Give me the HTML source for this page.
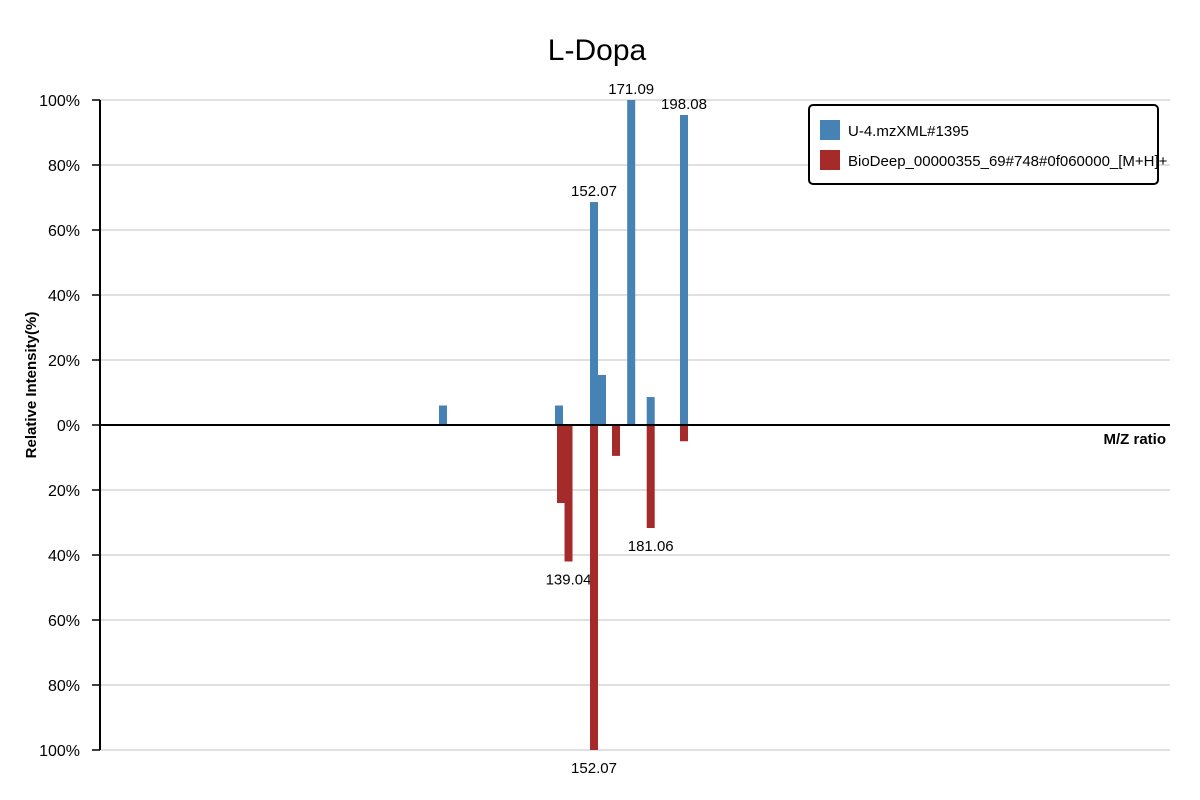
<!DOCTYPE html>
<html><head><meta charset="utf-8"><style>
body{margin:0;background:#fff}
svg{display:block;font-family:"Liberation Sans",sans-serif}
</style></head><body>
<svg id="chart" width="1200" height="800" xmlns="http://www.w3.org/2000/svg">
<text x="597" y="60" font-size="30" text-anchor="middle" fill="#000">L-Dopa</text>
<g id="grid"></g>
<g id="bars"></g>
<g id="axes"></g>
<g>
<rect x="809" y="105" width="349" height="79" rx="4" fill="#fff" stroke="#000" stroke-width="2"/>
<rect x="820" y="120" width="20" height="20" fill="#4682b4"/>
<text x="848" y="136" font-size="15">U-4.mzXML#1395</text>
<rect x="820" y="150" width="20" height="20" fill="#a52a2a"/>
<text x="848" y="166" font-size="15">BioDeep_00000355_69#748#0f060000_[M+H]+</text>
</g>
</svg>
<script>
const queryMz=[74.87,134.18,152.07,156.16,171.09,181.06,198.08];
const queryInt=[6,6,68.6,15.4,100,8.6,95.4];
const queryLabels=["","","152.07","","171.09","","198.08"];
const refMz=[135.2,139.04,152.07,163.32,181.06,198.08];
const refInt=[24,42,100,9.5,31.7,5];
const refLabels=["","139.04","152.07","","181.06",""];
const yTicks=[100,80,60,40,20,0,-20,-40,-60,-80,-100];

const NS="http://www.w3.org/2000/svg";
const y0=425, yScale=3.25;
const yPos=v=>y0-v*yScale;
const xPos=mz=>594+(mz-152.07)*1.956;
function mk(tag,attrs,parent,text){const e=document.createElementNS(NS,tag);for(const k in attrs)e.setAttribute(k,attrs[k]);if(text!==undefined)e.textContent=text;parent.appendChild(e);return e;}
const grid=document.getElementById('grid'),bars=document.getElementById('bars'),axes=document.getElementById('axes');
yTicks.forEach(t=>{
 const y=yPos(t);
 if(t!==0){const l=mk('line',{x1:100,x2:1170,y1:y,y2:y,stroke:'#e0e0e0','stroke-width':2},grid);
 
 }
 const tk=mk('line',{x1:92,x2:100,y1:y,y2:y,stroke:'#000','stroke-width':1.5},axes);
 
 
 const tx=mk('text',{x:80,y:y+6,'font-size':16,'text-anchor':'end'},axes,Math.abs(t)+'%');
 
 
});
queryMz.forEach((mz,i)=>{
 const x=xPos(mz),y=yPos(queryInt[i]);
 const r=mk('rect',{x:x-4,y:y,width:8,height:y0-y,fill:'#4682b4'},bars);
 
 
 if(queryLabels[i]){const t=mk('text',{x:x,y:y-6,'font-size':15,'text-anchor':'middle'},bars,queryLabels[i]);
 
 }
});
refMz.forEach((mz,i)=>{
 const x=xPos(mz),y=yPos(-refInt[i]);
 const r=mk('rect',{x:x-4,y:y0,width:8,height:y-y0,fill:'#a52a2a'},bars);
 
 
 if(refLabels[i]){const t=mk('text',{x:x,y:y+23,'font-size':15,'text-anchor':'middle'},bars,refLabels[i]);
 
 }
});
const ya=mk('line',{x1:100,x2:100,y1:100,y2:750,stroke:'#000','stroke-width':2},axes);


const xa=mk('line',{x1:100,x2:1170,y1:y0,y2:y0,stroke:'#000','stroke-width':2},axes);


const xt=mk('text',{x:1166,y:444,'font-size':15,'font-weight':'bold','text-anchor':'end'},axes,'M/Z ratio');


const yt=mk('text',{x:36,y:385,'font-size':15,'font-weight':'bold','text-anchor':'middle',transform:'rotate(-90 36 385)'},axes,'Relative Intensity(%)');


</script>
</body></html>
